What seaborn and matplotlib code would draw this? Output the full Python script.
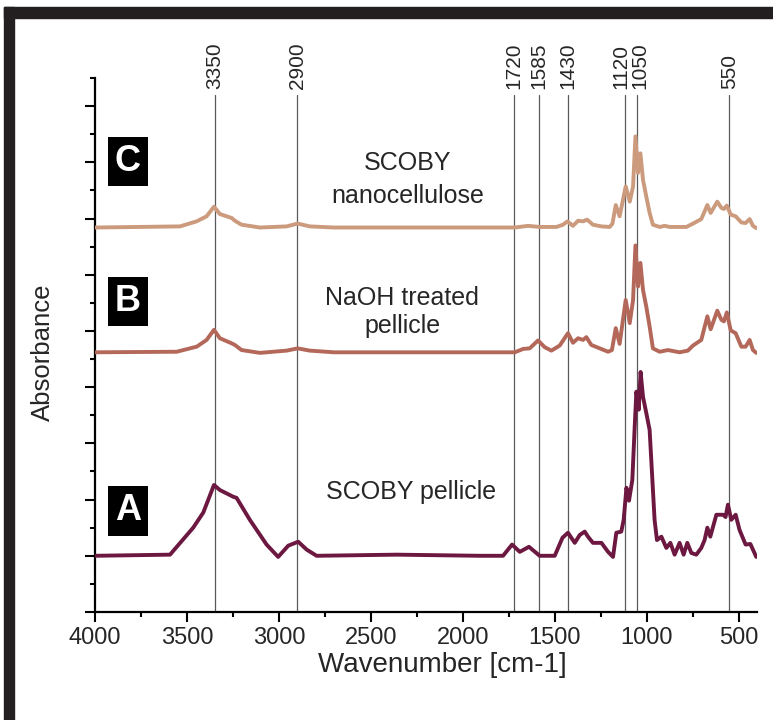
import numpy as np
import pandas as pd
import matplotlib
matplotlib.use("Agg")
import matplotlib.pyplot as plt
import seaborn as sns
from matplotlib.patches import Rectangle
from matplotlib.ticker import MultipleLocator

# FTIR spectra (wavenumber in cm-1, absorbance above each baseline)
wn_a = [4000, 3592, 3466, 3411, 3353, 3321, 3248, 3230, 3158, 3067, 3004, 2949, 2895,
        2849, 2795, 2360, 1908, 1781, 1732, 1690, 1640, 1582, 1500, 1458, 1428, 1391,
        1364, 1337, 1319, 1292, 1246, 1210, 1183, 1165, 1138, 1125, 1110, 1096, 1078,
        1065, 1056, 1043, 1033, 1020, 1002, 984, 975, 957, 944, 920, 893, 871, 848,
        821, 799, 779, 757, 730, 703, 685, 670, 654, 621, 585, 571, 558, 540, 516,
        495, 462, 436, 404]
abs_a = [0.00, 0.02, 0.50, 0.77, 1.26, 1.17, 1.05, 1.03, 0.64, 0.20, -0.02, 0.18, 0.25,
         0.11, 0.00, 0.02, 0.00, 0.00, 0.20, 0.07, 0.16, 0.00, 0.00, 0.32, 0.41, 0.23,
         0.37, 0.43, 0.34, 0.23, 0.23, 0.07, -0.02, 0.41, 0.43, 0.64, 1.21, 0.98, 1.35,
         2.30, 2.92, 2.60, 3.27, 2.83, 2.54, 2.24, 1.71, 0.64, 0.28, 0.34, 0.14, 0.23, 0.02,
         0.23, 0.02, 0.23, 0.05, 0.02, 0.14, 0.28, 0.50, 0.34, 0.73, 0.73, 0.69, 0.91, 0.64,
         0.73, 0.46, 0.20, 0.21, -0.02]

wn_b = [4000, 3556, 3447, 3393, 3353, 3321, 3257, 3239, 3203, 3103, 2958, 2898, 2832,
        2700, 1908, 1717, 1672, 1636, 1591, 1554, 1518, 1473, 1428, 1401, 1373, 1346,
        1328, 1301, 1255, 1210, 1189, 1168, 1147, 1114, 1092, 1074, 1061, 1047, 1034,
        1020, 1002, 984, 966, 929, 884, 821, 776, 748, 703, 670, 652, 616, 594, 580,
        564, 543, 516, 485, 462, 440, 422, 404]
abs_b = [0.00, 0.01, 0.10, 0.22, 0.40, 0.25, 0.16, 0.13, 0.04, -0.01, 0.03, 0.07, 0.03,
         0.00, 0.00, 0.00, 0.06, 0.07, 0.21, 0.09, 0.03, 0.12, 0.34, 0.17, 0.25, 0.22,
         0.27, 0.13, 0.07, 0.01, 0.04, 0.43, 0.15, 0.93, 0.52, 0.93, 1.90, 1.17, 1.59,
         1.11, 0.81, 0.46, 0.07, 0.01, 0.04, 0.00, 0.03, 0.12, 0.22, 0.64, 0.41, 0.74,
         0.58, 0.55, 0.71, 0.39, 0.34, 0.10, 0.10, 0.22, 0.04, -0.01]

wn_c = [4000, 3538, 3447, 3393, 3353, 3321, 3257, 3239, 3203, 3103, 2958, 2898, 2832,
        2700, 1908, 1717, 1645, 1582, 1491, 1455, 1431, 1401, 1373, 1346, 1324, 1292,
        1246, 1201, 1186, 1168, 1147, 1114, 1092, 1074, 1061, 1047, 1034, 1020, 1002,
        984, 966, 929, 902, 875, 784, 748, 703, 670, 652, 616, 594, 580, 564, 543, 516,
        485, 462, 440, 422, 404]
abs_c = [0.00, 0.02, 0.11, 0.20, 0.37, 0.24, 0.17, 0.12, 0.05, 0.00, 0.02, 0.07, 0.02,
         0.00, 0.00, 0.00, 0.03, 0.01, 0.01, 0.05, 0.11, 0.03, 0.12, 0.11, 0.14, 0.05,
         0.02, 0.01, 0.07, 0.40, 0.20, 0.73, 0.46, 0.73, 1.62, 0.97, 1.32, 0.85, 0.55,
         0.26, 0.05, 0.01, 0.03, 0.01, 0.01, 0.07, 0.15, 0.40, 0.26, 0.46, 0.35, 0.33,
         0.39, 0.23, 0.20, 0.09, 0.08, 0.15, 0.03, -0.01]

samples = ["A", "B", "C"]
sample_names = ["SCOBY pellicle", "NaOH treated\npellicle", "SCOBY\nnanocellulose"]
offsets = [1.0, 4.62, 6.84]
peak_lines = [3350, 2900, 1720, 1585, 1430, 1120, 1050, 550]

colors = {"A": "#6c1840", "B": "#b4685a", "C": "#cc9a7c"}
# small nudges so the two close labels at 1120/1050 don't collide
label_nudge = {1120: 18, 1050: -12}

frames = []
for s, wn, ab, off in zip(samples, [wn_a, wn_b, wn_c], [abs_a, abs_b, abs_c], offsets):
    frames.append(pd.DataFrame({"wavenumber": wn, "absorbance": ab, "sample": s,
                                "shifted": np.array(ab) + off}))
df = pd.concat(frames, ignore_index=True)

sns.set_style("ticks")
plt.rcParams["font.family"] = ["Liberation Sans", "DejaVu Sans"]

W, H = 773, 720
fig = plt.figure(figsize=(W / 100, H / 100), dpi=100)
ax = fig.add_axes([95 / W, 1 - 612 / H, 662 / W, 534 / H])

# reference lines at the band positions
for p in peak_lines:
    ax.plot([p, p], [0, 9.2], color="#5a5a5a", lw=0.9, zorder=1)
    ax.text(p + label_nudge.get(p, 0), 9.3, str(p), rotation=90, ha="center",
            va="bottom", fontsize=15, clip_on=False)

sns.lineplot(data=df, x="wavenumber", y="shifted", hue="sample", palette=colors,
             sort=False, estimator=None, legend=False, linewidth=2.8, ax=ax, zorder=3)

ax.set_xlim(4000, 400)
ax.set_ylim(0, 9.5)
ax.xaxis.set_major_locator(MultipleLocator(500))
ax.xaxis.set_minor_locator(MultipleLocator(250))
ax.yaxis.set_major_locator(MultipleLocator(1))
ax.yaxis.set_minor_locator(MultipleLocator(0.5))
ax.set_xticks(np.arange(4000, 499, -500))
ax.set_yticklabels([])
ax.tick_params(axis="both", which="major", length=7, width=1.5, color="black",
               labelsize=17, pad=4)
ax.tick_params(axis="both", which="minor", length=3.5, width=1.5, color="black")
for side in ["top", "right"]:
    ax.spines[side].set_visible(False)
for side in ["left", "bottom"]:
    ax.spines[side].set_linewidth(1.6)
    ax.spines[side].set_color("black")

ax.set_xlabel("Wavenumber [cm-1]", fontsize=20)
ax.xaxis.label.set_va("center")
ax.xaxis.set_label_coords(0.525, -0.1)
ax.set_ylabel("Absorbance", fontsize=18.5)
ax.yaxis.label.set_va("center")
ax.yaxis.set_label_coords(-0.078, 0.487)

# sample names
ax.text(2300, 7.69, sample_names[2], ha="center", va="center", fontsize=18,
        linespacing=1.45)
ax.text(2330, 5.34, sample_names[1], ha="center", va="center", fontsize=18,
        linespacing=1.2)
ax.text(2283, 2.14, sample_names[0], ha="center", va="center", fontsize=18)

# letter boxes
for s, yy in zip(["C", "B", "A"], [8.01, 5.52, 1.80]):
    ax.text(3821, yy, s, ha="center", va="center", color="white", fontsize=26,
            fontweight="bold",
            bbox=dict(boxstyle="square,pad=0.2", fc="black", ec="none"))

# dark frame (top and left edge)
fig.add_artist(Rectangle((4 / W, 0), 10 / W, 1 - 7 / H, transform=fig.transFigure,
                         color="#231f20", zorder=10))
fig.add_artist(Rectangle((4 / W, 1 - 18 / H), 1, 11 / H, transform=fig.transFigure,
                         color="#231f20", zorder=10))

fig.savefig("out.png", dpi=100)
